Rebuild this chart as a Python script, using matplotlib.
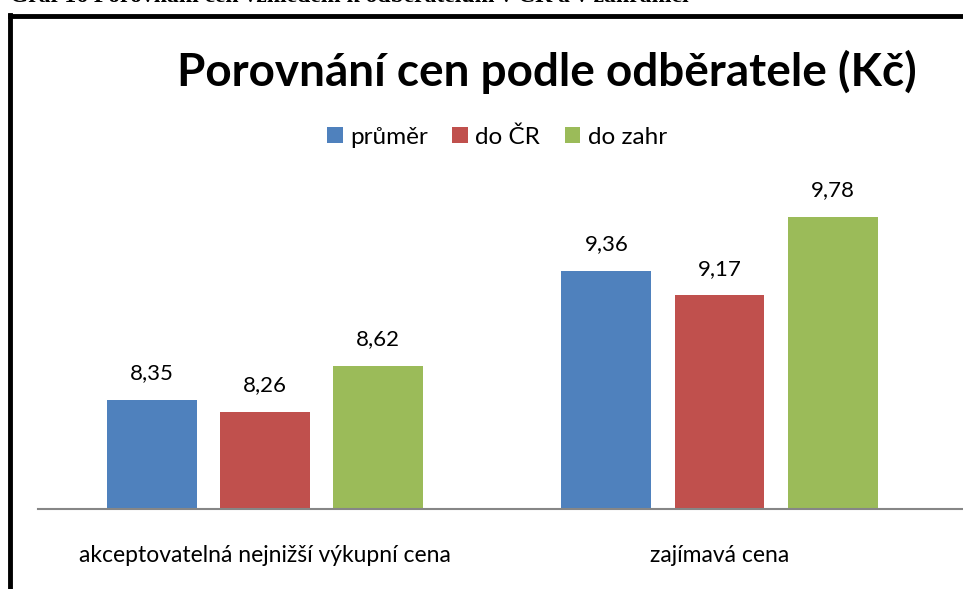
import matplotlib.pyplot as plt
from matplotlib.lines import Line2D
import numpy as np

categories = ["akceptovatelná nejnižší výkupní cena", "zajímavá cena"]
series = ["průměr", "do ČR", "do zahr"]
prumer = [8.35, 9.36]
do_cr = [8.26, 9.17]
do_zahr = [8.62, 9.78]
colors = ["#4F81BD", "#C0504D", "#9BBB59"]

W, H = 963, 589
fig = plt.figure(figsize=(W / 100, H / 100), dpi=100)

# plot area in pixels: left 38, right 963, top 189, bottom 509
ax = fig.add_axes([38 / W, (H - 509) / H, (963 - 38) / W, (509 - 189) / H])

x = np.arange(len(categories))
width = 0.198
offset = 0.249
for i, (name, vals) in enumerate(zip(series, [prumer, do_cr, do_zahr])):
    pos = x + (i - 1) * offset
    ax.bar(pos, vals, width, color=colors[i], label=name)
    for xp, v in zip(pos, vals):
        ax.text(xp, v + 0.13, f"{v:.2f}".replace(".", ","), ha="center", va="bottom",
                fontsize=16, family="Lato")

ax.set_xlim(-0.5, 1.536)
ax.set_ylim(7.5, 10)
ax.set_yticks([])
ax.set_xticks(x)
ax.set_xticklabels(categories, fontsize=16.5, family="Lato")
ax.tick_params(axis="x", length=0, pad=26)
for s in ["top", "right", "left"]:
    ax.spines[s].set_visible(False)
ax.spines["bottom"].set_color("#868686")
ax.spines["bottom"].set_linewidth(1.5)

fig.text(547 / W, 1 - 72 / H, "Porovnání cen podle odběratele (Kč)", ha="center", va="center",
         fontsize=33, fontweight="bold", family="Lato")

fig.legend(loc="center", bbox_to_anchor=(497 / W, 1 - 137 / H), ncol=3, frameon=False,
           prop={"family": "Lato", "size": 17.5}, handlelength=0.65, handleheight=0.65,
           handletextpad=0.3, columnspacing=1.0)

# clipped caption and frame of the embedded chart
fig.text(10 / W, 1 + 3 / H, "Graf 16 Porovnání cen vzhledem k odběratelům v ČR a v zahraničí",
         ha="left", va="center", fontsize=17, fontweight="bold", family="Liberation Serif")
fig.add_artist(Line2D([9.5 / W, 9.5 / W], [0, 1 - 15 / H], color="black", lw=3.5,
                      transform=fig.transFigure, solid_capstyle="projecting"))
fig.add_artist(Line2D([9.5 / W, 1], [1 - 15.5 / H, 1 - 15.5 / H], color="black", lw=3.5,
                      transform=fig.transFigure, solid_capstyle="projecting"))

fig.savefig("out.png", dpi=100)
